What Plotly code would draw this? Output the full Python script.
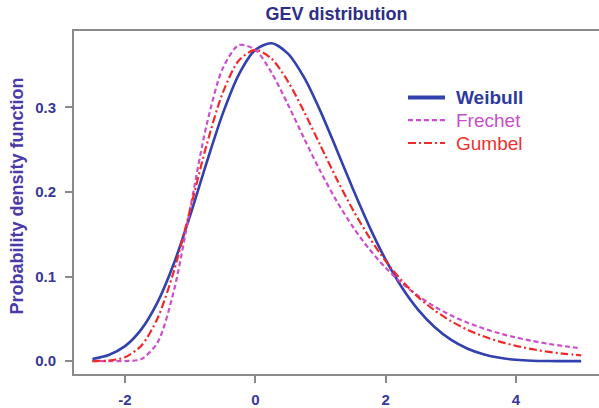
import plotly.graph_objects as go

x_vals = [-2.5, -2.25, -2.0, -1.75, -1.5, -1.25, -1.0, -0.75, -0.5, -0.25, 0.0,
          0.25, 0.5, 0.75, 1.0, 1.25, 1.5, 1.75, 2.0, 2.25, 2.5, 2.75, 3.0,
          3.25, 3.5, 3.75, 4.0, 4.25, 4.5, 4.75, 5.0]

weibull = [0.0026, 0.0073, 0.0177, 0.0375, 0.0697, 0.1154, 0.1722, 0.2340, 0.2925, 0.3392, 0.3679,
           0.3757, 0.3635, 0.3350, 0.2952, 0.2496, 0.2030, 0.1590, 0.1199, 0.0870, 0.0606, 0.0403, 0.0253,
           0.0149, 0.0081, 0.0039, 0.0016, 0.0005, 0.0001, 0.0, 0.0]

frechet = [0.0, 0.0, 0.0001, 0.0024, 0.0222, 0.0831, 0.1804, 0.2784, 0.3460, 0.3736, 0.3679,
           0.3409, 0.3034, 0.2630, 0.2241, 0.1889, 0.1583, 0.1322, 0.1103, 0.0920, 0.0770, 0.0645, 0.0542,
           0.0457, 0.0386, 0.0328, 0.0279, 0.0238, 0.0204, 0.0176, 0.0151]

gumbel = [0.0001, 0.0007, 0.0046, 0.0182, 0.0507, 0.1064, 0.1794, 0.2549, 0.3171, 0.3556, 0.3679,
          0.3574, 0.3307, 0.2945, 0.2547, 0.2151, 0.1785, 0.1461, 0.1182, 0.0949, 0.0756, 0.0600, 0.0474,
          0.0373, 0.0293, 0.0230, 0.0180, 0.0141, 0.0110, 0.0086, 0.0067]

series_names = ["Weibull", "Frechet", "Gumbel"]
x_ticks = [-2, 0, 2, 4]
y_ticks = [0.0, 0.1, 0.2, 0.3]

FONT = "Liberation Sans, Arial, sans-serif"
C_TXT = "#38389A"
C_AX = "#8A8A8A"
styles = [
    dict(color="#3341AE", width=2.6, dash="solid", text="#2E3A9E", bold=True, lw=4),
    dict(color="#CC4FCC", width=2.2, dash="5px,3px", text="#C84FC8", bold=False, lw=2.2),
    dict(color="#EE2B2B", width=2.2, dash="8px,3px,2px,3px", text="#EE3030", bold=False, lw=2.2),
]
series = [weibull, frechet, gumbel]

L, T, W, H = 74, 31, 525, 346


def px_x(p):
    return (p - L) / W


def px_y(p):
    return (T + H - p) / H


fig = go.Figure()
for name, ys, st in zip(series_names, series, styles):
    fig.add_trace(go.Scatter(x=x_vals, y=ys, mode="lines", name=name, showlegend=False,
                             line=dict(color=st["color"], width=st["width"], dash=st["dash"],
                                       shape="spline", smoothing=0.8)))

# manual legend
leg_rows = [98, 121, 144]
for name, st, ry in zip(series_names, styles, leg_rows):
    fig.add_shape(type="line", xref="paper", yref="paper",
                  x0=px_x(408), x1=px_x(445), y0=px_y(ry), y1=px_y(ry),
                  line=dict(color=st["color"], width=st["lw"], dash=st["dash"]))
    txt = "<b>%s</b>" % name if st["bold"] else name
    fig.add_annotation(text=txt, xref="paper", yref="paper", x=px_x(454), y=px_y(ry),
                       xanchor="left", yanchor="middle", showarrow=False,
                       font=dict(size=19, color=st["text"], family=FONT))

fig.update_layout(
    width=599, height=408,
    margin=dict(l=L, r=0, t=T, b=408 - T - H),
    paper_bgcolor="white", plot_bgcolor="white",
    font=dict(family=FONT, color=C_TXT),
    showlegend=False,
    title=dict(text="<b>GEV distribution</b>", x=0.5, xref="paper", xanchor="center",
               y=1 - 14 / 408, yref="container", yanchor="middle",
               font=dict(size=18, color="#2E2E86", family=FONT)),
    xaxis=dict(range=[-2.783, 5.274], tickmode="array", tickvals=x_ticks,
               ticktext=["<b>%d</b>" % v for v in x_ticks],
               showgrid=False, zeroline=False, showline=True, linecolor=C_AX, linewidth=2,
               mirror=True, ticks="outside", ticklen=7, tickwidth=2, tickcolor=C_AX,
               tickfont=dict(size=15, color=C_TXT, family=FONT),
               ticklabelstandoff=4),
    yaxis=dict(range=[-0.01523, 0.3902], tickmode="array", tickvals=y_ticks,
               ticktext=["<b>%.1f</b>" % v for v in y_ticks],
               showgrid=False, zeroline=False, showline=True, linecolor=C_AX, linewidth=2,
               mirror=False, ticks="outside", ticklen=7, tickwidth=2, tickcolor=C_AX,
               tickfont=dict(size=15, color=C_TXT, family=FONT),
               ticklabelstandoff=6),
)

fig.add_annotation(text="<b>Probability density function</b>", textangle=-90,
                   xref="paper", yref="paper", x=px_x(17), y=px_y(198),
                   xanchor="center", yanchor="middle", showarrow=False,
                   font=dict(size=18, color="#4A3AA8", family=FONT))

fig.write_html("out.html")
